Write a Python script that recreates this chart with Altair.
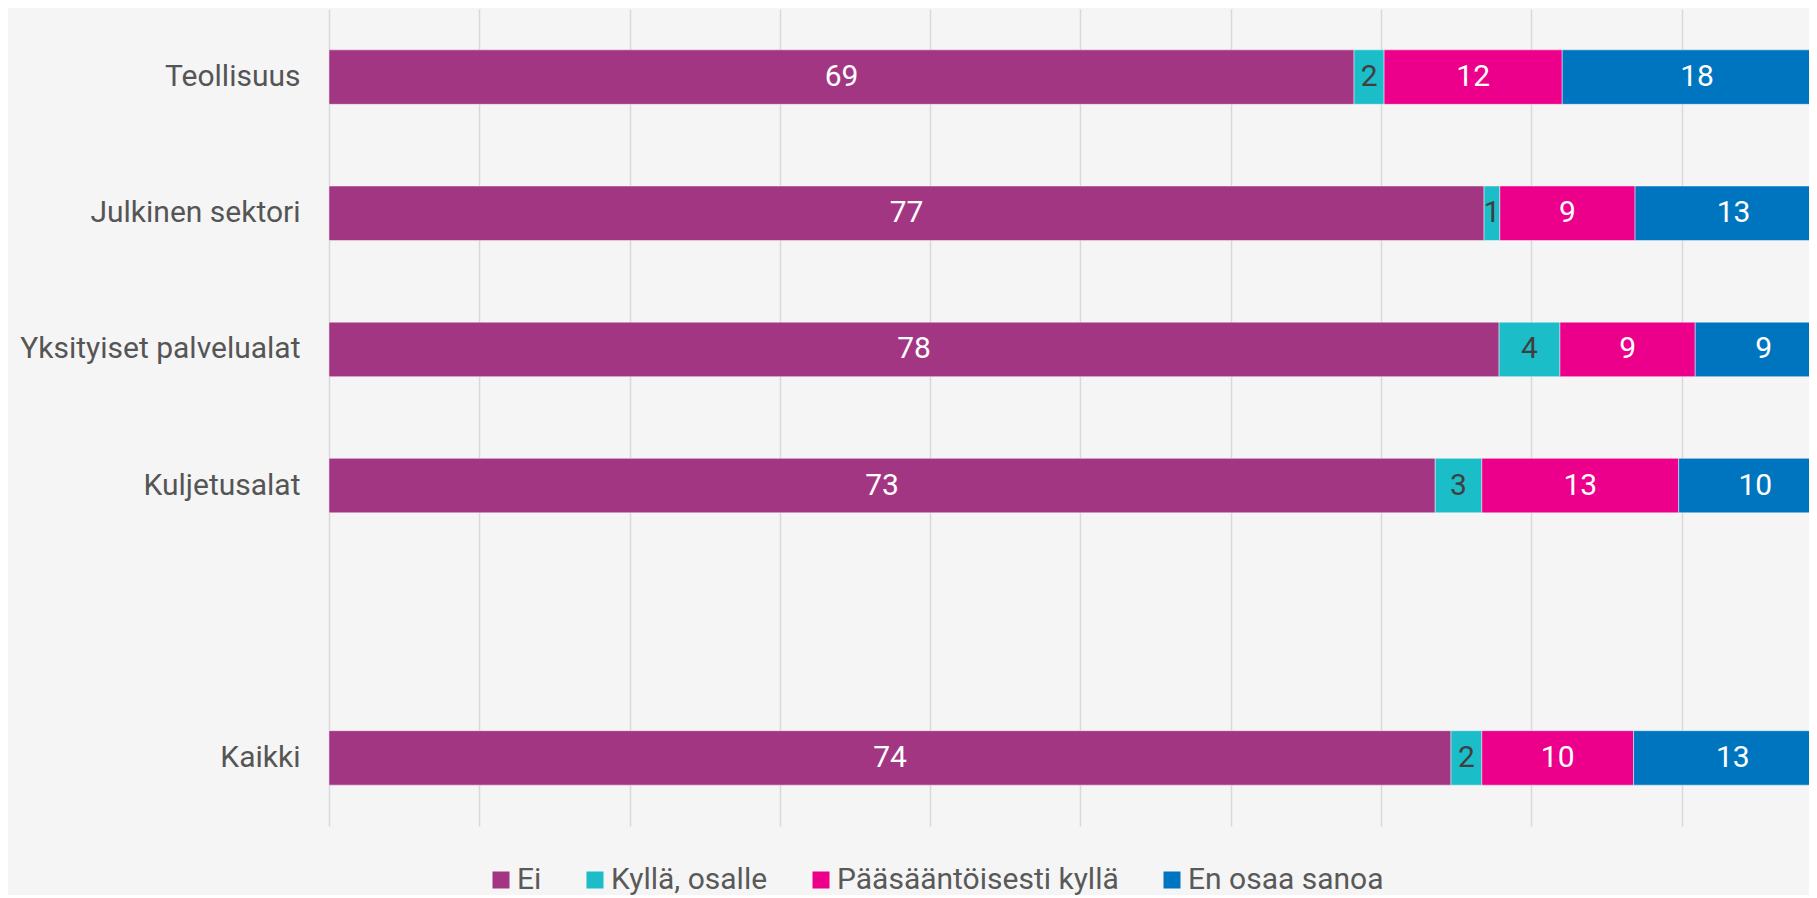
import altair as alt
import pandas as pd

categories = ["Teollisuus", "Julkinen sektori", "Yksityiset palvelualat", "Kuljetusalat", " ", "Kaikki"]
series = ["Ei", "Kyllä, osalle", "Pääsääntöisesti kyllä", "En osaa sanoa"]
colors = ["#A33682", "#1BBDC9", "#EC008B", "#0075BF"]

# bar lengths and the printed labels
ei = [68.2, 76.85, 77.85, 73.6, None, 74.65]
kylla_osalle = [2.0, 1.05, 4.05, 3.1, None, 2.05]
paasaantoisesti = [11.85, 9.0, 9.0, 13.1, None, 10.1]
en_osaa = [17.95, 13.1, 9.1, 10.2, None, 13.2]

ei_lbl = ["69", "77", "78", "73", None, "74"]
kylla_osalle_lbl = ["2", "1", "4", "3", None, "2"]
paasaantoisesti_lbl = ["12", "9", "9", "13", None, "10"]
en_osaa_lbl = ["18", "13", "9", "10", None, "13"]

rows = []
for s_i, (s, vals, lbls) in enumerate(zip(
        series,
        [ei, kylla_osalle, paasaantoisesti, en_osaa],
        [ei_lbl, kylla_osalle_lbl, paasaantoisesti_lbl, en_osaa_lbl])):
    for c, v, l in zip(categories, vals, lbls):
        if v is None:
            continue
        rows.append({"category": c, "series": s, "order": s_i, "value": v, "label": l})
df = pd.DataFrame(rows)

FONT = "Roboto"
xscale = alt.Scale(domain=[0, 98.47], nice=False, zero=True)
yscale = alt.Scale(domain=categories, paddingInner=0.6, paddingOuter=0.3)

base = alt.Chart(df).transform_stack(
    stack="value", as_=["x0", "x1"], groupby=["category"],
    sort=[alt.SortField("order", order="ascending")]
).transform_calculate(mid="(datum.x0 + datum.x1) / 2")

bars = base.mark_bar(clip=True, stroke="white", strokeOpacity=0.45, strokeWidth=1).encode(
    x=alt.X("x0:Q", scale=xscale,
            axis=alt.Axis(values=list(range(0, 101, 10)), labels=False, ticks=False,
                          domain=False, grid=True, gridColor="#D9D9D9", gridWidth=1.5,
                          title=None)),
    x2="x1:Q",
    y=alt.Y("category:N", scale=yscale,
            axis=alt.Axis(title=None, ticks=False, domain=False, labelFont=FONT,
                          labelFontSize=30, labelColor="#555555", labelPadding=29,
                          minExtent=321, maxExtent=321, labelLimit=400)),
    color=alt.Color("series:N", scale=alt.Scale(domain=series, range=colors),
                    legend=alt.Legend(title=None, orient="none", direction="horizontal",
                                      legendX=157, legendY=856, padding=0,
                                      symbolType="square",
                                      symbolSize=289, symbolStrokeWidth=0,
                                      labelFont=FONT, labelFontSize=30, labelLimit=600,
                                      labelColor="#595959", labelOffset=1,
                                      columnPadding=38)),
)

texts = base.mark_text(font=FONT, fontSize=30, baseline="middle", align="center", clip=True).encode(
    x=alt.X("mid:Q", scale=xscale),
    y=alt.Y("category:N", scale=yscale),
    text="label:N",
    color=alt.condition(alt.datum.series == "Kyllä, osalle", alt.value("#3F3F3F"), alt.value("white")),
)

chart = alt.layer(bars, texts).properties(
    width=1480, height=817,
    padding={"top": 1, "left": 0, "right": 0, "bottom": 0},
    background="#F5F5F5",
).configure_view(stroke=None)

chart.save("out.html", embed_options={"renderer": "svg", "actions": False})
